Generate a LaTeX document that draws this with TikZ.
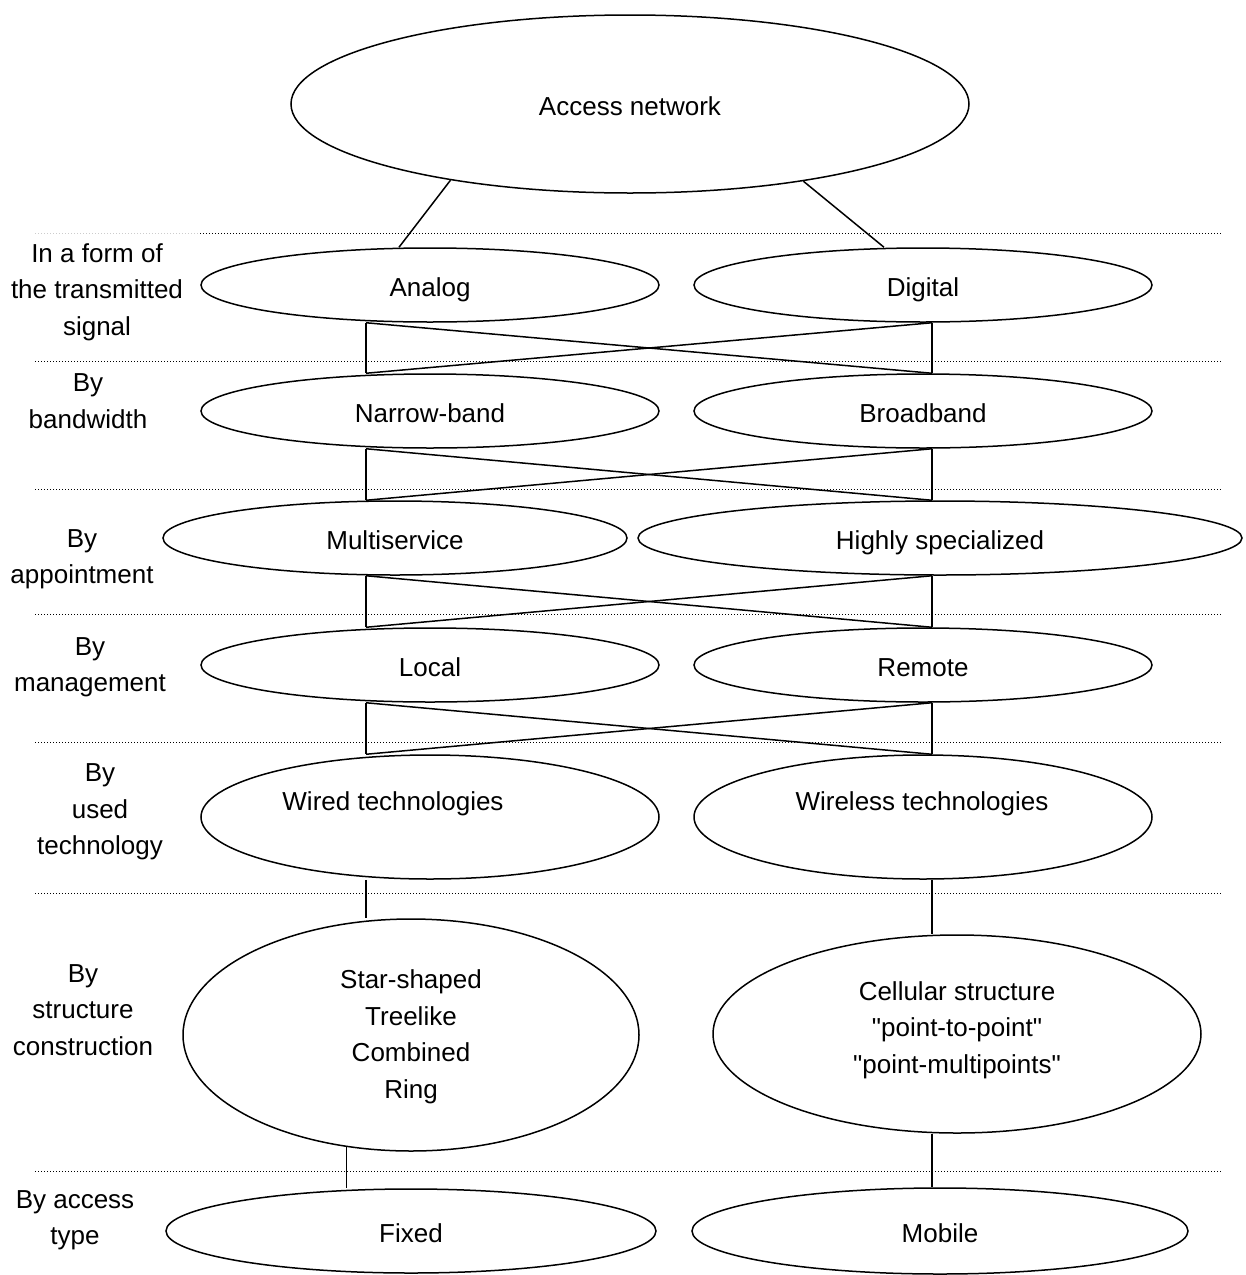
\documentclass[tikz,border=0pt]{standalone}
\usepackage{fontspec}
\setmainfont{Liberation Sans}[Ligatures=TeXOff]
\usetikzlibrary{shapes.geometric}
\begin{document}
\begin{tikzpicture}[x=1pt,y=-1pt,
  oval/.style={ellipse,draw,line width=1.5pt,inner sep=0pt,align=center,font=\fontsize{26}{36.5}\selectfont},
  one/.style={text height=25pt,text depth=3pt},
  lbl/.style={align=center,inner sep=0pt,font=\fontsize{26}{36.5}\selectfont},
  link/.style={line width=1.5pt},
  sepline/.style={line width=1pt,dash pattern=on 1pt off 2pt}]
\useasboundingbox (0,0) rectangle (1246,1275);

% separators
\draw[sepline,gray!40] (35,233) -- (200,233);
\draw[sepline] (200,233) -- (1222,233);
\foreach \yy in {361,489,614,742,893,1171}
  \draw[sepline] (35,\yy) -- (1222,\yy);

% ellipses
\node[oval,one,minimum width=678pt,minimum height=178pt] (access) at (630,104) {Access network};
\node[oval,one,minimum width=458pt,minimum height=74pt] (analog) at (430,285) {Analog};
\node[oval,one,minimum width=458pt,minimum height=74pt] (digital) at (923,285) {Digital};
\node[oval,one,minimum width=458pt,minimum height=74pt] (narrow) at (430,411) {Narrow-band};
\node[oval,one,minimum width=458pt,minimum height=74pt] (broad) at (923,411) {Broadband};
\node[oval,one,minimum width=464pt,minimum height=74pt] (multi) at (395,538) {Multiservice};
\node[oval,one,minimum width=604pt,minimum height=74pt] (highly) at (940,538) {Highly specialized};
\node[oval,one,minimum width=458pt,minimum height=74pt] (local) at (430,665) {Local};
\node[oval,one,minimum width=458pt,minimum height=74pt] (remote) at (923,665) {Remote};
\node[oval,minimum width=458pt,minimum height=124pt] (wired) at (430,817) {};
\node[lbl,one] (wiredt) at (393,799) {Wired technologies};
\node[oval,minimum width=458pt,minimum height=124pt] (wireless) at (923,817) {};
\node[lbl,one] (wirelesst) at (922,799) {Wireless technologies};
\node[oval,minimum width=456pt,minimum height=232pt] (star) at (411,1035) {};
\node[lbl] (start) at (411,1037) {Star-shaped\\Treelike\\Combined\\Ring};
\node[oval,minimum width=488pt,minimum height=198pt] (cell) at (957,1034) {};
\node[lbl] (cellt) at (957,1030) {Cellular structure\\"point-to-point"\\"point-multipoints"};
\node[oval,one,minimum width=490pt,minimum height=84pt] (fixed) at (411,1231) {Fixed};
\node[oval,one,minimum width=496pt,minimum height=86pt] (mobile) at (940,1231) {Mobile};

% left labels
\node[lbl] (l1) at (97,292) {In a form of\\the transmitted\\signal};
\node[lbl] (l2) at (88,401) {By\\bandwidth};
\node[lbl] (l3) at (82,559) {By\\appointment};
\node[lbl] (l4) at (90,667) {By\\management};
\node[lbl] (l5) at (100,812) {By\\used\\technology};
\node[lbl] (l6) at (83,1010) {By\\structure\\construction};
\node[lbl] (l7) at (75,1220) {By access\\type};

% connector columns
\coordinate (xl) at (366,0);
\coordinate (xr) at (932,0);
\coordinate (xa) at (399,0);
\coordinate (xb) at (884,0);

\draw[link] (access.203.5) -- (analog.north -| xa);
\draw[link] (access.336.8) -- (digital.north -| xb);

\draw[link] (analog.south -| xl) -- (narrow.north -| xl);
\draw[link] (analog.south -| xl) -- (broad.north -| xr);
\draw[link] (digital.south -| xr) -- (broad.north -| xr);
\draw[link] (digital.south -| xr) -- (narrow.north -| xl);

\draw[link] (narrow.south -| xl) -- (multi.north -| xl);
\draw[link] (narrow.south -| xl) -- (highly.north -| xr);
\draw[link] (broad.south -| xr) -- (highly.north -| xr);
\draw[link] (broad.south -| xr) -- (multi.north -| xl);

\draw[link] (multi.south -| xl) -- (local.north -| xl);
\draw[link] (multi.south -| xl) -- (remote.north -| xr);
\draw[link] (highly.south -| xr) -- (remote.north -| xr);
\draw[link] (highly.south -| xr) -- (local.north -| xl);

\draw[link] (local.south -| xl) -- (wired.north -| xl);
\draw[link] (local.south -| xl) -- (wireless.north -| xr);
\draw[link] (remote.south -| xr) -- (wireless.north -| xr);
\draw[link] (remote.south -| xr) -- (wired.north -| xl);

\draw[link] (wired.south -| xl) -- (star.north -| xl);
\draw[link] (wireless.south -| xr) -- (cell.north -| xr);

\draw[link] (star.240.5) -- (fixed.north -| star.240.5);
\draw[link] (cell.south -| xr) -- (mobile.north -| xr);
\end{tikzpicture}
\end{document}
